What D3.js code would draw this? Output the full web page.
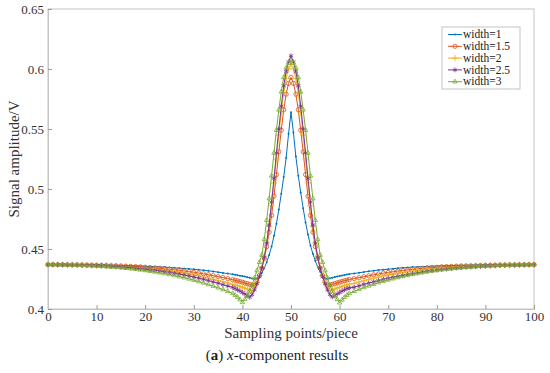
<!DOCTYPE html>
<html>
<head>
<meta charset="utf-8">
<script src="https://cdn.jsdelivr.net/npm/d3@7"></script>
<style>
  body { margin: 0; background: #fff; }
  text { font-family: "Liberation Serif", "DejaVu Serif", serif; }
</style>
</head>
<body>
<div id="chart"></div>
<script>
// sampling positions: step 1 on the tails, step 0.5 around the peak
const samplePoints = [...d3.range(0, 38), ...d3.range(38, 62.5, 0.5), ...d3.range(63, 101)];

const seriesNames = ["width=1", "width=1.5", "width=2", "width=2.5", "width=3"];

const width1 = [
  .4370,.4370,.4370,.4370,.4369,.4369,.4369,.4368,.4368,.4367,.4367,.4366,.4366,.4365,.4364,.4363,.4362,.4361,.4360,.4359,.4357,.4355,.4353,.4351,.4349,.4346,.4343,.4340,.4337,.4334,.4331,.4327,.4323,.4318,.4313,.4307,.4301,.4295,
  .4289,.4286,.4282,.4278,.4274,.4270,.4265,.4260,.4255,.4252,.4255,.427,.430,.434,.439,.445,.452,.461,.471,.483,.496,.510,.526,.546,.564,
  .547,.527,.511,.497,.484,.472,.462,.453,.446,.440,.435,.431,.428,.4256,.4252,.4256,.4261,.4266,.4271,.4275,.4279,.4283,.4287,.4291,
  .4296,.4302,.4308,.4314,.4319,.4324,.4328,.4332,.4336,.4340,.4343,.4346,.4349,.4351,.4353,.4355,.4357,.4359,.4360,.4361,.4362,.4363,.4364,.4365,.4366,.4366,.4367,.4367,.4368,.4368,.4369,.4369,.4369,.4370,.4370,.4370,.4370,.4370
];
const width15 = [
  .4370,.4370,.4370,.4369,.4369,.4368,.4368,.4367,.4367,.4366,.4365,.4364,.4363,.4362,.4361,.4359,.4357,.4355,.4353,.4351,.4348,.4345,.4342,.4339,.4335,.4331,.4327,.4322,.4317,.4312,.4306,.4300,.4293,.4286,.4278,.4270,.4262,.4253,
  .4244,.4239,.4234,.4229,.4223,.4217,.4211,.4205,.4198,.4195,.423,.428,.434,.442,.452,.464,.478,.494,.512,.531,.549,.566,.579,.588,.593,
  .588,.579,.566,.549,.531,.512,.494,.478,.464,.452,.442,.434,.428,.423,.4196,.4199,.4206,.4212,.4218,.4224,.4230,.4236,.4241,.4246,
  .4253,.4261,.4269,.4277,.4285,.4292,.4299,.4305,.4311,.4316,.4321,.4326,.4330,.4334,.4338,.4342,.4345,.4348,.4351,.4353,.4355,.4357,.4359,.4360,.4361,.4362,.4363,.4364,.4365,.4366,.4367,.4367,.4368,.4368,.4369,.4369,.4370,.4370
];
const width2 = [
  .4370,.4370,.4369,.4369,.4368,.4368,.4367,.4366,.4365,.4364,.4363,.4362,.4360,.4358,.4356,.4354,.4352,.4349,.4346,.4343,.4340,.4336,.4332,.4328,.4323,.4318,.4312,.4306,.4299,.4292,.4284,.4276,.4267,.4258,.4248,.4238,.4228,.4217,
  .4206,.4200,.4194,.4188,.4181,.4174,.4167,.4159,.4152,.418,.422,.428,.435,.444,.455,.469,.486,.505,.525,.545,.564,.580,.592,.600,.604,
  .600,.592,.580,.564,.545,.525,.505,.486,.469,.455,.444,.435,.428,.422,.418,.4153,.4160,.4167,.4174,.4181,.4188,.4195,.4201,.4207,
  .4214,.4225,.4236,.4246,.4256,.4265,.4274,.4282,.4290,.4297,.4304,.4310,.4316,.4321,.4326,.4331,.4335,.4339,.4342,.4345,.4348,.4351,.4353,.4355,.4357,.4359,.4360,.4362,.4363,.4364,.4365,.4366,.4367,.4368,.4368,.4369,.4369,.4370
];
const width25 = [
  .4370,.4370,.4369,.4369,.4368,.4367,.4366,.4365,.4364,.4363,.4361,.4359,.4357,.4355,.4353,.4350,.4347,.4344,.4340,.4336,.4332,.4327,.4322,.4317,.4311,.4305,.4298,.4291,.4283,.4275,.4266,.4257,.4247,.4237,.4226,.4215,.4203,.4191,
  .4180,.4170,.4160,.4149,.4137,.4125,.4112,.4098,.412,.416,.421,.427,.434,.443,.455,.470,.489,.509,.530,.550,.569,.586,.598,.606,.611,
  .606,.598,.586,.569,.550,.530,.509,.489,.470,.455,.443,.434,.427,.421,.416,.412,.4100,.4112,.4125,.4137,.4149,.4160,.4170,.4176,
  .4181,.4193,.4205,.4216,.4227,.4237,.4247,.4256,.4265,.4273,.4281,.4288,.4295,.4302,.4308,.4314,.4319,.4324,.4329,.4333,.4337,.4341,.4344,.4347,.4350,.4353,.4355,.4357,.4359,.4361,.4362,.4364,.4365,.4366,.4367,.4368,.4369,.4370
];
const width3 = [
  .4370,.4370,.4369,.4368,.4367,.4366,.4365,.4364,.4362,.4360,.4358,.4356,.4353,.4350,.4347,.4344,.4340,.4336,.4331,.4326,.4321,.4315,.4309,.4302,.4295,.4287,.4279,.4270,.4261,.4251,.4240,.4229,.4217,.4204,.4191,.4177,.4162,.4147,
  .4130,.4115,.4098,.4078,.4055,.408,.411,.415,.420,.426,.432,.439,.445,.458,.474,.492,.511,.530,.549,.566,.581,.593,.601,.605,.607,
  .605,.601,.593,.581,.566,.549,.530,.511,.492,.474,.458,.445,.439,.432,.426,.420,.415,.411,.408,.4052,.4076,.4097,.4115,.4131,
  .4148,.4164,.4179,.4193,.4206,.4219,.4231,.4242,.4252,.4262,.4271,.4280,.4288,.4296,.4303,.4310,.4316,.4322,.4327,.4332,.4336,.4340,.4344,.4347,.4350,.4353,.4356,.4358,.4360,.4362,.4364,.4365,.4366,.4367,.4368,.4369,.4369,.4370
];

const xTicks = [0, 10, 20, 30, 40, 50, 60, 70, 80, 90, 100];
const yTicks = [0.4, 0.45, 0.5, 0.55, 0.6, 0.65];

const colors = ["#0072BD", "#D95319", "#EDB120", "#7E2F8E", "#77AC30"];
const markers = [null, d3.symbolCircle, d3.symbolPlus, d3.symbolAsterisk, d3.symbolTriangle2];
const markerSize = [0, 14, 16, 16, 14];

const series = [width1, width15, width2, width25, width3].map((vals, i) => ({
  name: seriesNames[i],
  values: samplePoints.map((x, j) => ({x: x, y: vals[j]})).filter(d => d.y !== undefined)
}));

// svg with margin convention
const W = 550, H = 373;
const margin = ({top: 9, right: 16, bottom: 64, left: 48});
const width = W - margin.left - margin.right;
const height = H - margin.top - margin.bottom;

const root = d3.select("#chart").append("svg")
  .attr("width", W)
  .attr("height", H);

const svg = root.append("g")
  .attr("transform", `translate(${margin.left},${margin.top})`);

const xScale = d3.scaleLinear().domain([0, 100]).range([0, width]);
const yScale = d3.scaleLinear().domain([0.4, 0.65]).range([height, 0]);

// frame
svg.append("rect")
  .attr("width", width)
  .attr("height", height)
  .attr("fill", "none")
  .attr("stroke", "#c4c4c4")
  .attr("stroke-width", 1);

// axes, ticks pointing inside
const xAxis = d3.axisBottom(xScale).tickValues(xTicks).tickSize(-4).tickPadding(3).tickFormat(d3.format("d"));
const yAxis = d3.axisLeft(yScale).tickValues(yTicks).tickSize(-4).tickPadding(4).tickFormat(d => d3.format("")(+d.toFixed(2)));

const gx = svg.append("g")
  .attr("transform", `translate(0,${height})`)
  .call(xAxis);
const gy = svg.append("g").call(yAxis);

[gx, gy].forEach(g => {
  g.select(".domain").attr("stroke", "#c4c4c4");
  g.selectAll(".tick line").attr("stroke", "#9a9a9a");
  g.selectAll(".tick text")
    .attr("fill", "#333")
    .style("font-size", "13px")
    .style("font-family", "'Liberation Serif', serif");
});

// lines + markers
const line = d3.line().x(d => xScale(d.x)).y(d => yScale(d.y));

series.forEach((s, i) => {
  const g = svg.append("g").attr("class", "series");
  g.append("path")
    .datum(s.values)
    .attr("fill", "none")
    .attr("stroke", colors[i])
    .attr("stroke-width", 1)
    .attr("d", line);

  if (markers[i]) {
    g.selectAll("path.mk")
      .data(s.values)
      .join("path")
      .attr("class", "mk")
      .attr("transform", d => `translate(${xScale(d.x)},${yScale(d.y)})`)
      .attr("d", d3.symbol(markers[i], markerSize[i]))
      .attr("fill", "none")
      .attr("stroke", colors[i])
      .attr("stroke-width", 0.8);
  } else {
    g.selectAll("circle.mk")
      .data(s.values)
      .join("circle")
      .attr("class", "mk")
      .attr("cx", d => xScale(d.x))
      .attr("cy", d => yScale(d.y))
      .attr("r", 1)
      .attr("fill", colors[i]);
  }
});

// legend
const legend = svg.append("g")
  .attr("transform", `translate(${442 - margin.left},${27 - margin.top})`);
legend.append("rect")
  .attr("width", 78)
  .attr("height", 62)
  .attr("fill", "#fff")
  .attr("stroke", "#c4c4c4");

seriesNames.forEach((name, i) => {
  const row = legend.append("g").attr("transform", `translate(0,${7.5 + i * 11.8})`);
  row.append("line")
    .attr("x1", 6).attr("x2", 20)
    .attr("stroke", colors[i]).attr("stroke-width", 1);
  if (markers[i]) {
    row.append("path")
      .attr("transform", "translate(13,0)")
      .attr("d", d3.symbol(markers[i], markerSize[i]))
      .attr("fill", "none")
      .attr("stroke", colors[i])
      .attr("stroke-width", 0.8);
  } else {
    row.append("circle").attr("cx", 13).attr("r", 1).attr("fill", colors[i]);
  }
  row.append("text")
    .attr("x", 21)
    .attr("dy", "0.33em")
    .attr("fill", "#222")
    .style("font-size", "11.5px")
    .text(name);
});

// axis labels
root.append("text")
  .attr("transform", `translate(19,${margin.top + height / 2}) rotate(-90)`)
  .attr("text-anchor", "middle")
  .attr("fill", "#333")
  .style("font-size", "15px")
  .text("Signal amplitude/V");

root.append("text")
  .attr("x", margin.left + width / 2)
  .attr("y", 338)
  .attr("text-anchor", "middle")
  .attr("fill", "#333")
  .style("font-size", "15px")
  .text("Sampling points/piece");

// caption
const cap = root.append("text")
  .attr("x", 277)
  .attr("y", 360)
  .attr("text-anchor", "middle")
  .attr("fill", "#222")
  .style("font-size", "15px");
cap.append("tspan").text("(");
cap.append("tspan").style("font-weight", "bold").text("a");
cap.append("tspan").text(") ");
cap.append("tspan").style("font-style", "italic").text("x");
cap.append("tspan").text("-component results");
</script>
</body>
</html>
